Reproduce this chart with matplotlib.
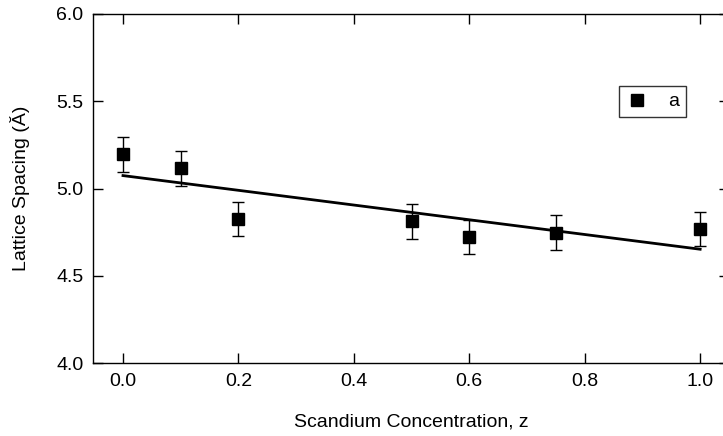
import matplotlib
matplotlib.use("Agg")
import matplotlib.pyplot as plt
from matplotlib.lines import Line2D

plt.rcParams['font.family'] = ['Liberation Sans', 'DejaVu Sans']

# scandium concentration vs lattice spacing
conc = [0.0, 0.1, 0.2, 0.5, 0.6, 0.75, 1.0]
spacing = [5.195, 5.115, 4.825, 4.812, 4.722, 4.747, 4.768]
spacing_err = [0.10, 0.10, 0.10, 0.10, 0.10, 0.10, 0.10]

# linear fit endpoints
fit_x = [0.0, 1.0]
fit_y = [5.074, 4.652]

xticks = [0.0, 0.2, 0.4, 0.6, 0.8, 1.0]
yticks = [4.0, 4.5, 5.0, 5.5, 6.0]

fig = plt.figure(figsize=(7.23, 4.36), dpi=100)
ax = fig.add_axes([93 / 723, 1 - 363 / 436, 636 / 723, 349 / 436])

ax.plot(fit_x, fit_y, color='black', lw=2.0, zorder=2)
ax.errorbar(conc, spacing, yerr=spacing_err, fmt='s', color='black',
            ms=9, elinewidth=1.0, capsize=4, capthick=1.0, zorder=3)

ax.set_xlim(-0.052, 1.05)
ax.set_ylim(4.0, 6.0)
ax.set_xticks(xticks)
ax.set_xticklabels([f"{t:.1f}" for t in xticks])
ax.set_yticks(yticks)
ax.set_yticklabels([f"{t:.1f}" for t in yticks])
ax.tick_params(direction='in', length=7, width=1, top=True, right=True,
               labelsize=14, pad=7)
for s in ax.spines.values():
    s.set_linewidth(1)

ax.set_xlabel("Scandium Concentration, z", fontsize=14, labelpad=17)
ax.set_ylabel("Lattice Spacing (Ă)", fontsize=14, labelpad=19)

handle = Line2D([], [], ls='none', marker='s', color='black', ms=9)
leg = ax.legend(handles=[handle], labels=['a'], loc='upper right',
                bbox_to_anchor=(686 / 723, 1 - 86 / 436),
                bbox_transform=fig.transFigure, fontsize=14, frameon=True,
                fancybox=False, handletextpad=1.0, borderpad=0.35,
                handlelength=1.2, borderaxespad=0)
leg.get_frame().set_edgecolor('black')
leg.get_frame().set_linewidth(1)

fig.savefig("out.png", dpi=100)
